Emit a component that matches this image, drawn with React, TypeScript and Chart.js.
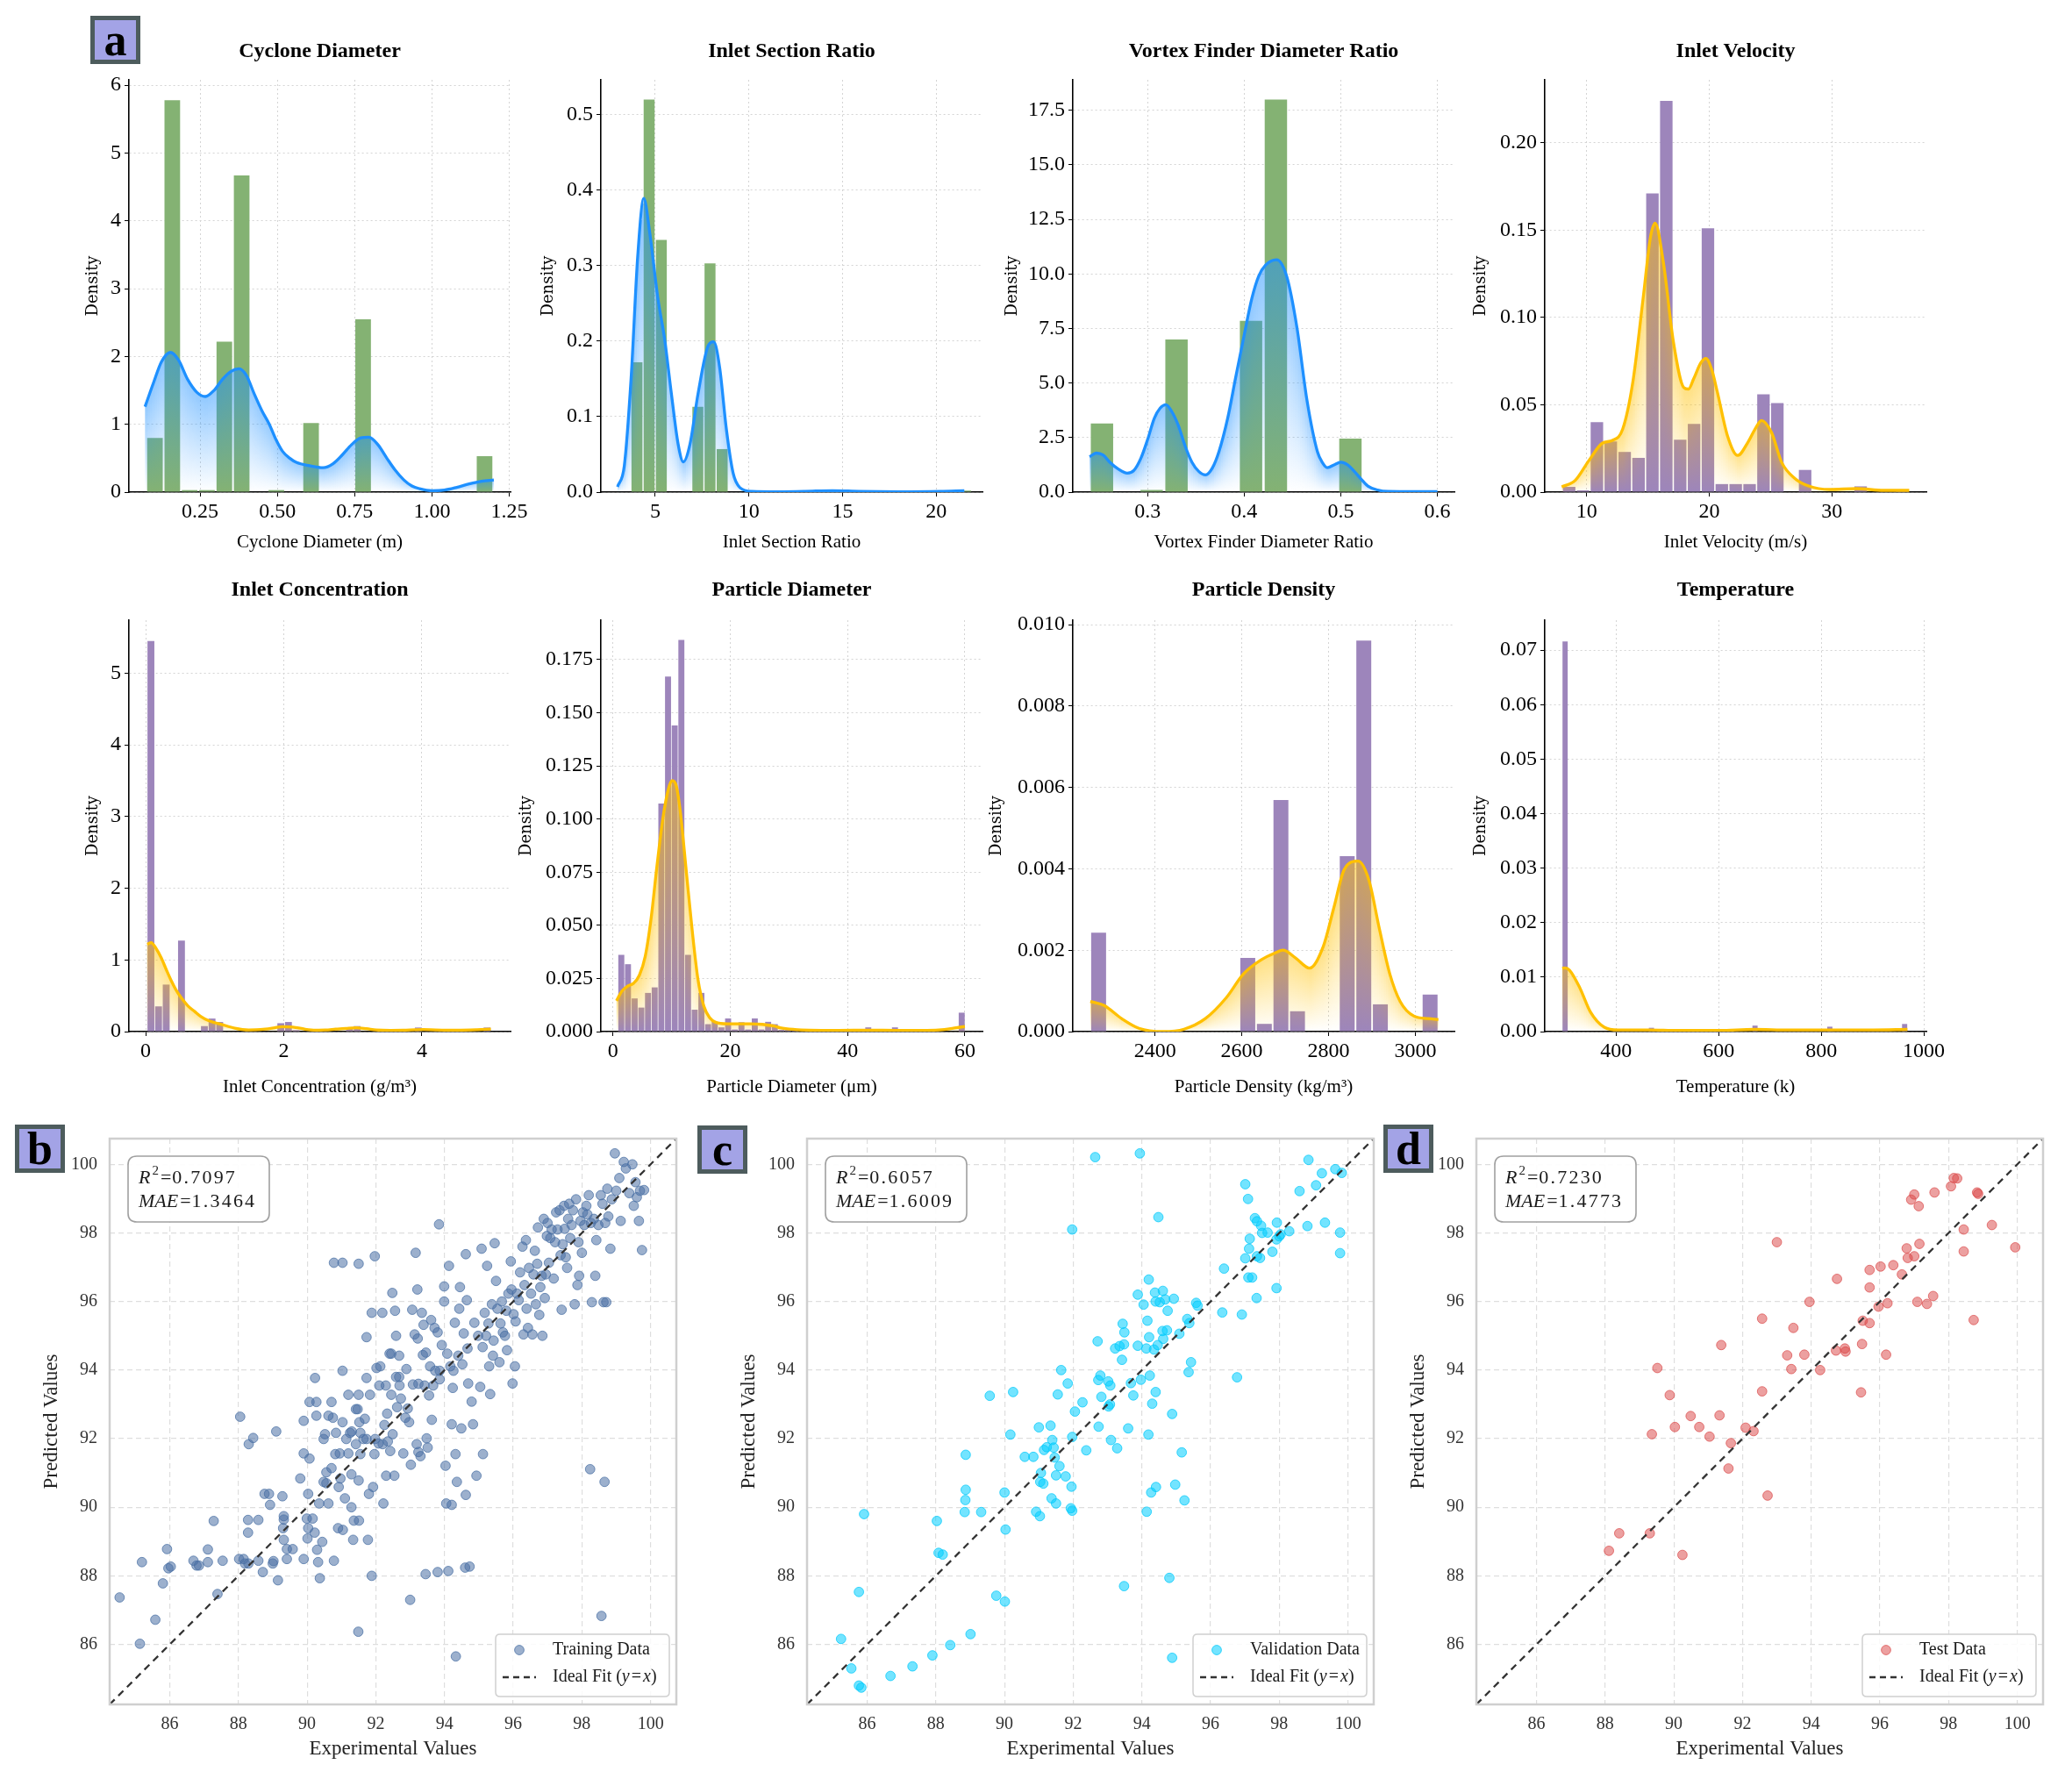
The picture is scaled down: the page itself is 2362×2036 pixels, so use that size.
import React, { useEffect, useRef } from "react";
import { Chart, registerables } from "chart.js";
Chart.register(...registerables);

const SERIF = '"Liberation Serif", "Times New Roman", serif';
const DENSITY_FONT = '"DejaVu Serif", serif';

// ================= Histogram data =================
// Cyclone Diameter
const CYCLONE_BIN_START = 0.076;
const CYCLONE_BIN_WIDTH = 0.0561;
const CYCLONE_HEIGHTS = [0.8, 5.78, 0.03, 0.03, 2.22, 4.67, 0, 0.03, 0, 1.02, 0, 0, 2.55, 0, 0, 0, 0, 0, 0, 0.53];
const CYCLONE_KDE = [[0.072,1.26],[0.1,1.62],[0.125,1.92],[0.154,2.06],[0.18,1.95],[0.21,1.66],[0.24,1.47],[0.267,1.41],[0.295,1.5],[0.322,1.66],[0.35,1.78],[0.376,1.82],[0.4,1.72],[0.425,1.45],[0.45,1.2],[0.474,1.0],[0.495,0.78],[0.517,0.6],[0.54,0.5],[0.561,0.44],[0.604,0.39],[0.648,0.36],[0.68,0.42],[0.71,0.55],[0.74,0.7],[0.77,0.8],[0.796,0.81],[0.825,0.7],[0.854,0.5],[0.88,0.33],[0.909,0.18],[0.935,0.09],[0.96,0.05],[1.0,0.02],[1.04,0.03],[1.08,0.07],[1.12,0.12],[1.16,0.16],[1.2,0.18]];
const CYCLONE_X_TICKS = [0.25, 0.5, 0.75, 1.0, 1.25];
const CYCLONE_Y_TICKS = [0, 1, 2, 3, 4, 5, 6];

// Inlet Section Ratio
const SECTION_BIN_START = 3.05;
const SECTION_BIN_WIDTH = 0.65;
const SECTION_HEIGHTS = [0, 0.172, 0.52, 0.334, 0, 0, 0.113, 0.303, 0.057, 0, 0, 0, 0, 0, 0, 0, 0, 0.002, 0, 0, 0, 0, 0, 0, 0, 0, 0, 0, 0.002];
const SECTION_KDE = [[2.99,0.007],[3.35,0.035],[3.71,0.15],[4.07,0.314],[4.39,0.389],[4.71,0.343],[5.14,0.257],[5.5,0.203],[5.86,0.131],[6.22,0.064],[6.5,0.04],[6.86,0.064],[7.29,0.131],[7.83,0.194],[8.12,0.199],[8.44,0.165],[8.8,0.083],[9.16,0.025],[9.52,0.006],[10.16,0.001],[11.6,0.0005],[13.0,0.001],[14.45,0.002],[15.9,0.001],[18.0,0.0005],[20.2,0.001],[21.5,0.002]];
const SECTION_X_TICKS = [5, 10, 15, 20];
const SECTION_Y_TICKS = [0, 0.1, 0.2, 0.3, 0.4, 0.5];

// Vortex Finder Diameter Ratio
const VORTEX_BIN_START = 0.24;
const VORTEX_BIN_WIDTH = 0.02571;
const VORTEX_HEIGHTS = [3.15, 0, 0.1, 7.0, 0, 0, 7.85, 18.0, 0, 0, 2.45, 0, 0, 0.05];
const VORTEX_KDE = [[0.24,1.62],[0.247,1.79],[0.254,1.7],[0.261,1.37],[0.27,1.05],[0.279,0.87],[0.286,1.0],[0.293,1.54],[0.3,2.4],[0.307,3.38],[0.313,3.85],[0.319,4.01],[0.325,3.7],[0.332,3.04],[0.339,2.1],[0.346,1.37],[0.353,0.95],[0.36,0.79],[0.367,1.1],[0.374,1.87],[0.383,3.4],[0.391,5.21],[0.4,7.2],[0.408,8.89],[0.415,9.9],[0.422,10.4],[0.4335,10.65],[0.444,9.89],[0.4546,7.55],[0.465,4.21],[0.4757,1.87],[0.481,1.35],[0.486,1.12],[0.493,1.25],[0.5,1.37],[0.507,1.25],[0.514,0.95],[0.521,0.6],[0.528,0.28],[0.538,0.1],[0.549,0.03],[0.578,0.02],[0.6,0.02]];
const VORTEX_X_TICKS = [0.3, 0.4, 0.5, 0.6];
const VORTEX_Y_TICKS = [0, 2.5, 5, 7.5, 10, 12.5, 15, 17.5];

// Inlet Velocity
const VELOCITY_BIN_START = 8.0;
const VELOCITY_BIN_WIDTH = 1.132;
const VELOCITY_HEIGHTS = [0.003, 0.001, 0.04, 0.029, 0.023, 0.0196, 0.171, 0.224, 0.03, 0.039, 0.151, 0.0046, 0.0046, 0.0046, 0.056, 0.051, 0, 0.0127, 0, 0, 0, 0.0033, 0, 0, 0.0008];
const VELOCITY_KDE = [[7.96,0.003],[9.06,0.0067],[10.17,0.018],[11.27,0.028],[12.1,0.0296],[12.93,0.036],[13.76,0.063],[14.6,0.111],[15.2,0.146],[15.58,0.154],[16.24,0.132],[17.07,0.086],[17.9,0.06],[18.3,0.059],[18.73,0.065],[19.3,0.074],[19.72,0.0765],[20.2,0.07],[20.66,0.057],[21.49,0.032],[22.32,0.021],[23.15,0.0286],[23.8,0.037],[24.25,0.041],[25.08,0.034],[25.9,0.017],[27.0,0.0077],[28.1,0.0035],[29.8,0.0015],[32.0,0.002],[34.2,0.001],[36.3,0.001]];
const VELOCITY_X_TICKS = [10, 20, 30];
const VELOCITY_Y_TICKS = [0, 0.05, 0.1, 0.15, 0.2];

// Inlet Concentration
const CONC_BIN_START = 0.02;
const CONC_BIN_WIDTH = 0.11067;
const CONC_HEIGHTS = [5.45, 0.352, 0.656, 0, 1.27, 0, 0, 0.077, 0.182, 0.134, 0, 0, 0, 0, 0, 0, 0, 0.117, 0.134, 0.02, 0, 0, 0, 0, 0, 0, 0.049, 0.077, 0, 0, 0, 0, 0, 0, 0, 0.057, 0, 0, 0, 0, 0, 0, 0, 0, 0.057];
const CONC_KDE = [[0.02,1.22],[0.078,1.24],[0.15,1.16],[0.224,1.03],[0.3,0.86],[0.37,0.71],[0.44,0.58],[0.516,0.47],[0.61,0.36],[0.71,0.28],[0.8,0.21],[0.905,0.155],[1.0,0.125],[1.1,0.1],[1.2,0.07],[1.29,0.048],[1.4,0.03],[1.49,0.024],[1.6,0.025],[1.73,0.034],[1.85,0.05],[1.98,0.07],[2.08,0.066],[2.17,0.058],[2.3,0.035],[2.46,0.02],[2.6,0.022],[2.75,0.034],[2.9,0.045],[3.05,0.053],[3.2,0.04],[3.34,0.024],[3.55,0.018],[3.73,0.02],[3.9,0.026],[4.02,0.029],[4.2,0.024],[4.51,0.02],[4.8,0.026],[5.0,0.034]];
const CONC_X_TICKS = [0, 2, 4];
const CONC_Y_TICKS = [0, 1, 2, 3, 4, 5];

// Particle Diameter
const PDIAM_BIN_START = 0.85;
const PDIAM_BIN_WIDTH = 1.138;
const PDIAM_HEIGHTS = [0.0361, 0.0317, 0.0156, 0.0113, 0.0182, 0.0208, 0.1073, 0.167, 0.144, 0.1842, 0.0361, 0.0103, 0.0182, 0.0035, 0.0046, 0.002, 0.0062, 0.001, 0.0044, 0.001, 0.0062, 0.001, 0.0046, 0.0035, 0.0008, 0.001, 0.0006, 0, 0.0008, 0.0008, 0, 0.0006, 0, 0, 0, 0, 0, 0.002, 0, 0, 0, 0.002, 0, 0, 0, 0, 0, 0, 0, 0, 0, 0.0089];
const PDIAM_KDE = [[0.6,0.0145],[1.5,0.019],[2.5,0.0214],[3.5,0.0227],[4.5,0.0265],[5.5,0.0354],[6.5,0.0533],[7.5,0.078],[8.5,0.1002],[9.5,0.1146],[10.1,0.118],[10.75,0.116],[11.5,0.103],[12.5,0.0754],[13.5,0.0478],[14.5,0.0244],[15.5,0.012],[16.5,0.0065],[17.5,0.0044],[19.5,0.0037],[21.5,0.0037],[23.5,0.0037],[25.5,0.0034],[27.5,0.0026],[28.5,0.0018],[31,0.001],[33.5,0.0007],[38.5,0.0006],[43.5,0.0007],[48.5,0.0006],[53.5,0.0006],[56.5,0.001],[58.5,0.0018],[60,0.0024]];
const PDIAM_X_TICKS = [0, 20, 40, 60];
const PDIAM_Y_TICKS = [0, 0.025, 0.05, 0.075, 0.1, 0.125, 0.15, 0.175];

// Particle Density
const PDENS_BIN_START = 2251;
const PDENS_BIN_WIDTH = 38.19;
const PDENS_HEIGHTS = [0.00243, 0, 0, 0, 0, 0, 0, 0, 0, 0.00181, 0.00019, 0.00569, 0.0005, 0, 0, 0.00431, 0.00961, 0.00067, 0, 0, 0.00091];
const PDENS_KDE = [[2251,0.00074],[2283,0.00064],[2323,0.00032],[2363,0.00008],[2419,0.0],[2467,0.00006],[2516,0.00032],[2564,0.00083],[2604,0.00142],[2644,0.00176],[2676,0.00193],[2695,0.002],[2724,0.00181],[2756,0.00156],[2788,0.0021],[2812,0.00304],[2836,0.00398],[2868,0.00419],[2893,0.00372],[2917,0.00253],[2941,0.00142],[2965,0.00074],[2997,0.00038],[3029,0.00032],[3053,0.0003]];
const PDENS_X_TICKS = [2400, 2600, 2800, 3000];
const PDENS_Y_TICKS = [0, 0.002, 0.004, 0.006, 0.008, 0.01];

// Temperature
const TEMP_BIN_START = 295;
const TEMP_BIN_WIDTH = 11.22;
const TEMP_HEIGHTS = [0.0716, 0, 0, 0, 0, 0, 0, 0, 0, 0, 0, 0, 0, 0, 0, 0.0007, 0, 0, 0, 0, 0, 0, 0, 0, 0, 0, 0, 0, 0, 0, 0, 0, 0, 0.0011, 0, 0, 0, 0, 0, 0, 0, 0, 0, 0, 0, 0, 0.0009, 0, 0, 0, 0, 0, 0, 0, 0, 0, 0, 0, 0, 0.0014];
const TEMP_KDE = [[295,0.0116],[300,0.0117],[309,0.0113],[329,0.0081],[350,0.0036],[377,0.0008],[404,0.0003],[465,0.0003],[520,0.0002],[601,0.0002],[669,0.0004],[737,0.0003],[819,0.0003],[901,0.0003],[968,0.0004]];
const TEMP_X_TICKS = [400, 600, 800, 1000];
const TEMP_Y_TICKS = [0, 0.01, 0.02, 0.03, 0.04, 0.05, 0.06, 0.07];

// ================= Scatter data (experimental, predicted) =================
const TRAIN_POINTS = [[84.54,87.37],[85.13,86.02],[85.19,88.4],[85.58,86.72],[85.8,87.78],[85.92,88.78],[85.96,88.22],[86.03,88.27],[86.69,88.44],[86.78,88.3],[86.85,88.3],[87.11,88.4],[87.11,88.77],[87.28,89.6],[87.39,87.47],[87.54,88.44],[88.05,92.64],[88.02,88.49],[88.15,88.49],[88.19,88.36],[88.29,88.36],[88.28,89.63],[88.28,89.26],[88.3,91.84],[88.43,92.02],[88.58,89.63],[88.58,88.44],[88.71,88.11],[88.76,90.39],[88.89,90.39],[88.92,90.07],[89.0,88.36],[89.02,88.43],[89.1,92.21],[89.15,87.87],[89.28,90.32],[89.32,89.74],[89.32,89.64],[89.3,89.39],[89.32,89.05],[89.41,88.78],[89.58,88.78],[89.41,88.49],[89.8,90.84],[89.9,92.52],[89.9,91.57],[89.9,88.49],[89.99,89.67],[90.16,89.67],[90.01,89.09],[90.03,89.39],[90.03,90.39],[90.07,91.42],[90.07,93.07],[90.27,93.07],[90.23,93.77],[90.22,89.26],[90.27,92.67],[90.29,88.76],[90.32,88.4],[90.35,90.11],[90.37,87.93],[90.44,88.99],[90.48,91.99],[90.48,90.74],[90.52,92.13],[90.56,91.02],[90.56,90.7],[90.62,90.11],[90.62,92.67],[90.71,93.07],[90.71,91.14],[90.75,92.61],[90.78,88.44],[90.78,97.13],[90.82,91.55],[90.84,92.17],[90.9,89.39],[90.92,90.59],[90.95,91.57],[90.97,90.84],[91.03,97.13],[91.03,93.98],[91.03,92.48],[91.04,89.34],[91.1,90.26],[91.14,91.99],[91.2,93.28],[91.2,91.57],[91.25,92.17],[91.29,90.0],[91.29,90.96],[91.3,92.21],[91.34,89.05],[91.36,89.61],[91.42,91.84],[91.42,92.86],[91.47,92.86],[91.5,97.1],[91.5,93.28],[91.5,90.78],[91.51,89.61],[91.52,92.48],[91.55,92.17],[91.49,86.37],[91.55,91.55],[91.64,91.99],[91.68,92.58],[91.73,94.96],[91.73,93.77],[91.73,91.99],[91.77,89.05],[91.8,90.39],[91.83,93.28],[91.88,95.67],[91.88,88.0],[91.92,90.59],[91.96,91.55],[91.97,97.32],[91.98,91.99],[92.02,94.06],[92.08,91.86],[92.1,93.55],[92.13,94.11],[92.19,95.67],[92.2,91.84],[92.22,90.11],[92.25,92.4],[92.29,93.55],[92.3,90.92],[92.33,92.73],[92.35,91.92],[92.4,94.48],[92.45,94.48],[92.42,91.64],[92.45,93.28],[92.48,96.25],[92.49,92.13],[92.54,90.92],[92.56,95.73],[92.59,95.0],[92.59,93.8],[92.68,93.8],[92.62,92.92],[92.68,94.42],[92.69,93.55],[92.73,93.17],[92.8,91.57],[92.86,92.61],[92.89,94.03],[92.93,92.88],[92.97,92.48],[93.0,87.3],[93.02,91.24],[93.06,95.76],[93.08,93.58],[93.13,95.04],[93.16,97.42],[93.19,91.84],[93.21,96.35],[93.22,94.92],[93.24,93.6],[93.24,91.61],[93.3,91.49],[93.34,95.67],[93.37,94.44],[93.39,95.32],[93.42,93.55],[93.45,88.05],[93.46,94.51],[93.48,92.01],[93.51,91.74],[93.55,93.26],[93.58,94.11],[93.61,95.46],[93.63,92.55],[93.67,93.55],[93.71,95.23],[93.73,93.98],[93.8,95.1],[93.8,88.11],[93.84,98.25],[93.86,93.73],[93.86,93.98],[93.92,94.73],[93.99,96.44],[93.99,96.0],[94.03,91.21],[94.05,90.11],[94.08,94.48],[94.11,88.14],[94.13,97.04],[94.17,94.11],[94.21,92.42],[94.21,90.07],[94.24,93.48],[94.26,93.98],[94.3,95.38],[94.32,91.55],[94.33,85.65],[94.36,90.74],[94.4,94.42],[94.43,95.79],[94.45,96.42],[94.49,92.3],[94.52,94.17],[94.56,95.07],[94.6,88.24],[94.62,90.36],[94.62,97.38],[94.65,96.04],[94.67,94.63],[94.69,93.61],[94.73,88.27],[94.79,93.08],[94.83,92.42],[94.87,95.38],[94.93,90.92],[94.98,95.0],[95.04,93.51],[95.08,97.54],[95.11,94.67],[95.12,91.55],[95.17,95.67],[95.21,95.0],[95.24,97.04],[95.28,95.36],[95.3,94.11],[95.33,93.3],[95.38,95.92],[95.41,94.42],[95.43,94.86],[95.46,97.7],[95.5,96.6],[95.54,95.79],[95.6,94.23],[95.63,95.36],[95.67,96.0],[95.7,95.1],[95.76,95.0],[95.8,95.73],[95.82,94.58],[95.86,96.23],[95.93,97.17],[95.95,96.35],[95.98,93.61],[96.01,95.63],[96.05,94.11],[96.07,95.42],[96.11,96.23],[96.16,96.04],[96.2,96.85],[96.27,97.6],[96.3,95.04],[96.33,96.48],[96.37,97.79],[96.39,95.79],[96.43,95.23],[96.46,96.98],[96.52,96.23],[96.56,95.04],[96.59,96.79],[96.63,97.48],[96.66,95.92],[96.7,97.1],[96.72,98.16],[96.76,95.61],[96.79,96.42],[96.83,96.75],[96.85,95.0],[96.89,98.41],[96.92,96.1],[96.95,96.79],[96.98,97.91],[97.0,98.29],[97.04,97.13],[97.08,97.85],[97.12,98.1],[97.18,96.67],[97.22,97.73],[97.25,98.6],[97.29,98.1],[97.35,98.66],[97.38,97.35],[97.41,95.76],[97.44,97.67],[97.48,98.79],[97.5,98.12],[97.53,97.29],[97.57,96.98],[97.6,98.41],[97.63,98.85],[97.66,97.85],[97.7,98.23],[97.74,98.66],[97.79,95.92],[97.83,98.98],[97.87,96.48],[97.9,97.73],[97.92,96.75],[97.96,98.35],[98.0,97.42],[98.03,98.6],[98.07,98.23],[98.13,98.79],[98.16,98.54],[98.2,99.1],[98.24,91.11],[98.26,98.29],[98.29,95.98],[98.35,98.41],[98.39,96.75],[98.42,97.79],[98.48,98.23],[98.55,99.1],[98.57,86.83],[98.6,98.85],[98.63,95.98],[98.66,90.74],[98.68,98.29],[98.71,95.98],[98.74,99.29],[98.77,98.48],[98.83,97.54],[98.87,98.98],[98.96,100.32],[99.0,99.23],[99.09,99.6],[99.13,98.35],[99.22,100.07],[99.28,99.88],[99.38,99.16],[99.47,100.0],[99.51,98.79],[99.56,99.48],[99.6,99.04],[99.66,98.35],[99.69,99.23],[99.75,97.5],[99.81,99.25]];

const VALID_POINTS = [[85.24,86.16],[85.54,85.3],[85.76,87.53],[85.76,84.8],[85.83,84.74],[85.91,89.8],[86.68,85.08],[87.32,85.36],[87.9,85.68],[88.03,89.6],[88.08,88.67],[88.2,88.62],[88.42,85.98],[88.84,89.86],[88.86,90.21],[88.87,90.51],[88.87,91.53],[89.01,86.3],[89.32,89.86],[89.57,93.25],[89.76,87.42],[90.0,90.43],[90.01,87.25],[90.03,89.35],[90.17,92.12],[90.25,93.36],[90.59,91.47],[90.84,91.47],[90.92,89.87],[91.0,92.33],[91.03,89.74],[91.04,90.74],[91.06,91.0],[91.13,90.69],[91.15,91.67],[91.23,91.75],[91.34,92.38],[91.37,90.26],[91.39,91.96],[91.43,91.74],[91.46,91.45],[91.5,90.11],[91.5,90.93],[91.55,93.29],[91.6,91.2],[91.65,94.0],[91.78,90.9],[91.84,93.61],[91.93,89.97],[91.95,90.6],[91.97,89.9],[91.97,92.05],[91.97,98.1],[92.05,92.79],[92.27,93.06],[92.38,91.66],[92.64,100.21],[92.71,94.84],[92.73,93.71],[92.74,92.35],[92.79,93.84],[92.82,93.22],[93.02,93.67],[93.03,92.94],[93.07,93.0],[93.08,93.55],[93.1,91.96],[93.22,94.63],[93.28,91.72],[93.35,94.7],[93.42,94.3],[93.44,95.35],[93.48,94.75],[93.49,95.1],[93.48,87.7],[93.6,92.3],[93.68,93.62],[93.75,93.26],[93.88,94.71],[93.88,96.2],[93.94,100.32],[93.97,93.72],[94.05,95.91],[94.13,94.63],[94.14,89.87],[94.16,95.44],[94.19,92.12],[94.2,96.64],[94.21,94.96],[94.23,93.84],[94.27,90.43],[94.3,93.02],[94.35,94.6],[94.38,96.26],[94.4,96.0],[94.4,93.36],[94.41,90.59],[94.46,94.73],[94.48,98.46],[94.52,95.98],[94.6,95.14],[94.61,96.31],[94.62,94.91],[94.68,96.06],[94.73,95.16],[94.75,95.73],[94.8,87.94],[94.88,92.72],[94.88,85.61],[94.93,96.08],[94.97,90.66],[95.09,95.06],[95.16,91.6],[95.24,90.2],[95.32,95.49],[95.36,93.94],[95.38,95.37],[95.43,94.23],[95.58,95.96],[95.62,95.88],[96.34,95.68],[96.39,96.96],[96.77,93.79],[96.91,95.62],[97.01,99.42],[97.01,97.26],[97.09,98.99],[97.1,96.7],[97.12,97.54],[97.14,97.83],[97.21,96.7],[97.29,98.43],[97.34,96.1],[97.35,97.32],[97.35,98.34],[97.44,97.27],[97.47,98.21],[97.5,98.0],[97.66,98.01],[97.8,97.45],[97.92,96.39],[97.92,97.81],[97.93,98.3],[98.0,97.9],[98.04,97.96],[98.29,98.05],[98.59,99.22],[98.82,98.2],[98.85,100.13],[99.07,99.39],[99.24,99.74],[99.33,98.3],[99.63,99.86],[99.77,98.01],[99.77,97.41],[99.82,99.75]];

const TEST_POINTS = [[88.11,88.73],[88.41,89.24],[89.3,89.24],[89.36,92.13],[89.52,94.06],[89.88,93.27],[90.03,92.34],[90.25,88.61],[90.49,92.66],[90.74,92.34],[91.04,92.06],[91.33,92.68],[91.38,94.73],[91.59,91.13],[91.66,91.87],[92.09,92.32],[92.32,92.22],[92.57,93.38],[92.57,95.5],[92.73,90.34],[93.0,97.73],[93.3,94.43],[93.42,94.03],[93.48,95.23],[93.8,94.45],[93.95,95.99],[94.26,94.0],[94.72,94.57],[94.75,96.66],[94.98,94.63],[95.0,94.54],[95.45,93.35],[95.48,94.76],[95.5,95.44],[95.7,95.37],[95.7,96.41],[95.7,96.92],[95.96,95.85],[96.02,97.02],[96.18,94.45],[96.22,95.95],[96.39,97.06],[96.64,96.79],[96.78,97.55],[96.81,97.27],[96.91,98.97],[97.0,99.12],[97.0,97.32],[97.09,95.99],[97.13,98.78],[97.15,97.68],[97.37,95.93],[97.55,96.16],[97.59,99.18],[98.07,99.36],[98.15,99.6],[98.25,99.59],[98.44,98.1],[98.44,97.46],[98.73,95.46],[98.83,99.18],[98.86,99.14],[99.26,98.23],[99.94,97.58]];

const SCATTER_TICKS = [86, 88, 90, 92, 94, 96, 98, 100];
const SCATTER_RANGE = [84.25, 100.75];
const IDEAL_LINE = [84.25, 100.75];
const METRICS_R2 = ["0.7097", "0.6057", "0.7230"];
const METRICS_MAE = ["1.3464", "1.6009", "1.4773"];

// ================= Plugins =================
function makeKdeFill(rgb: string) {
  return {
    id: "kdeFill",
    beforeDatasetDraw(chart: any, args: any) {
      const meta = args.meta;
      if (meta.type !== "line") return;
      const line = meta.dataset;
      const pts = meta.data;
      if (!line || !pts || pts.length < 2) return;
      const ctx = chart.ctx;
      const area = chart.chartArea;
      const base = chart.scales.y.getPixelForValue(0);
      line.updateControlPoints(area, "x");
      ctx.save();
      ctx.beginPath();
      ctx.rect(area.left, area.top, area.right - area.left, area.bottom - area.top);
      ctx.clip();
      ctx.beginPath();
      line.path(ctx);
      ctx.lineTo(pts[pts.length - 1].x, base);
      ctx.lineTo(pts[0].x, base);
      ctx.closePath();
      ctx.clip();
      let k = 0;
      const x0 = Math.floor(pts[0].x);
      const x1 = Math.ceil(pts[pts.length - 1].x);
      for (let px = x0; px <= x1; px += 2) {
        while (k < pts.length - 2 && pts[k + 1].x < px) k++;
        const a = pts[k], b = pts[k + 1];
        const t = Math.max(0, Math.min(1, (px - a.x) / ((b.x - a.x) || 1)));
        const y = a.y + (b.y - a.y) * t;
        const h = base - y;
        if (h < 0.5) continue;
        const g = ctx.createLinearGradient(0, y - 3, 0, base);
        g.addColorStop(0, `rgba(${rgb},0.5)`);
        g.addColorStop(1, `rgba(${rgb},0)`);
        ctx.fillStyle = g;
        ctx.fillRect(px, y - 12, 2, h + 12);
      }
      ctx.restore();
    },
  };
}

function roundRect(ctx: any, x: number, y: number, w: number, h: number, r: number) {
  ctx.beginPath();
  ctx.moveTo(x + r, y);
  ctx.lineTo(x + w - r, y);
  ctx.quadraticCurveTo(x + w, y, x + w, y + r);
  ctx.lineTo(x + w, y + h - r);
  ctx.quadraticCurveTo(x + w, y + h, x + w - r, y + h);
  ctx.lineTo(x + r, y + h);
  ctx.quadraticCurveTo(x, y + h, x, y + h - r);
  ctx.lineTo(x, y + r);
  ctx.quadraticCurveTo(x, y, x + r, y);
  ctx.closePath();
}

function makeScatterDecor(cfg: any) {
  return {
    id: "scatterDecor",
    afterDraw(chart: any) {
      const ctx = chart.ctx;
      const a = chart.chartArea;
      ctx.save();
      // frame
      ctx.strokeStyle = "#cfcfcf";
      ctx.lineWidth = 2.5;
      ctx.strokeRect(a.left, a.top, a.right - a.left, a.bottom - a.top);

      // metrics box
      const bx = a.left + 21, by = a.top + 20, bw = 161, bh = 75;
      roundRect(ctx, bx, by, bw, bh, 10);
      ctx.fillStyle = "rgba(255,255,255,0.92)";
      ctx.fill();
      ctx.strokeStyle = "#a0a0a0";
      ctx.lineWidth = 1.6;
      ctx.stroke();
      ctx.fillStyle = "#1a1a1a";
      ctx.textBaseline = "alphabetic";
      ctx.textAlign = "left";
      const num = (s: string, x: number, y: number) => {
        ctx.font = `22px ${SERIF}`;
        let xx = x;
        for (const ch of s) {
          ctx.fillText(ch, xx, y);
          xx += ctx.measureText(ch).width + 2.2;
        }
      };
      let x = bx + 12;
      let y = by + 31;
      ctx.font = `italic 22px ${SERIF}`;
      ctx.fillText("R", x, y);
      x += ctx.measureText("R").width + 2;
      ctx.font = `15px ${SERIF}`;
      ctx.fillText("2", x, y - 10);
      x += ctx.measureText("2").width + 2;
      ctx.font = `22px ${SERIF}`;
      ctx.fillText("=", x, y);
      x += ctx.measureText("=").width + 1;
      num(cfg.r2, x, y);
      x = bx + 12;
      y = by + 58;
      ctx.font = `italic 22px ${SERIF}`;
      ctx.fillText("MAE", x, y);
      x += ctx.measureText("MAE").width + 2;
      ctx.font = `22px ${SERIF}`;
      ctx.fillText("=", x, y);
      x += ctx.measureText("=").width + 1;
      num(cfg.mae, x, y);

      // legend
      const lw = 198, lh = 71;
      const lx = a.right - 8 - lw, ly = a.bottom - 9 - lh;
      roundRect(ctx, lx, ly, lw, lh, 5);
      ctx.fillStyle = "rgba(255,255,255,0.85)";
      ctx.fill();
      ctx.strokeStyle = "#d0d0d0";
      ctx.lineWidth = 1.5;
      ctx.stroke();
      ctx.beginPath();
      ctx.arc(lx + 27, ly + 18, 5.4, 0, Math.PI * 2);
      ctx.fillStyle = cfg.fill;
      ctx.fill();
      ctx.strokeStyle = cfg.edge;
      ctx.lineWidth = 1;
      ctx.stroke();
      ctx.fillStyle = "#1a1a1a";
      ctx.font = `20px ${SERIF}`;
      ctx.textBaseline = "middle";
      ctx.fillText(cfg.label, lx + 65, ly + 18);
      ctx.beginPath();
      ctx.setLineDash([7, 5]);
      ctx.strokeStyle = "#333";
      ctx.lineWidth = 2.3;
      ctx.moveTo(lx + 8, ly + 49);
      ctx.lineTo(lx + 46, ly + 49);
      ctx.stroke();
      ctx.setLineDash([]);
      let tx = lx + 65;
      const ty = ly + 49;
      const seg = (s: string, italic: boolean) => {
        ctx.font = `${italic ? "italic " : ""}20px ${SERIF}`;
        ctx.fillText(s, tx, ty);
        tx += ctx.measureText(s).width;
      };
      seg("Ideal Fit (", false);
      seg("y", true);
      tx += 2;
      seg("=", false);
      tx += 2;
      seg("x", true);
      seg(")", false);
      ctx.restore();
    },
  };
}

// ================= Panel configs =================
type Hist = any;
const ROW1 = { top: 30, height: 601, padTop: 14, padBottom: 18.2, xAxisH: 70 };
const ROW2 = { top: 644, height: 608, padTop: 14, padBottom: 20.2, xAxisH: 76 };
const AXES_W = 435;
const RIGHT_PAD = 30;
const GREEN = "#84b273";
const PURPLE = "#9d85bb";
const BLUE = "#1e90ff";
const BLUE_RGB = "30,144,255";
const GOLD = "#ffc000";
const GOLD_RGB = "255,192,0";

const HISTS: Hist[] = [
  { row: ROW1, left: 96, yW: 51, title: "Cyclone Diameter", xLabel: "Cyclone Diameter (m)", start: CYCLONE_BIN_START, width: CYCLONE_BIN_WIDTH, heights: CYCLONE_HEIGHTS, kde: CYCLONE_KDE, xMin: 0.02, xMax: 1.254, yMax: 6.08, xTicks: CYCLONE_X_TICKS, xDec: 2, yTicks: CYCLONE_Y_TICKS, yDec: 0, bar: GREEN, line: BLUE, rgb: BLUE_RGB },
  { row: ROW1, left: 615, yW: 70, title: "Inlet Section Ratio", xLabel: "Inlet Section Ratio", start: SECTION_BIN_START, width: SECTION_BIN_WIDTH, heights: SECTION_HEIGHTS, kde: SECTION_KDE, xMin: 2.1, xMax: 22.47, yMax: 0.546, xTicks: SECTION_X_TICKS, xDec: 0, yTicks: SECTION_Y_TICKS, yDec: 1, bar: GREEN, line: BLUE, rgb: BLUE_RGB },
  { row: ROW1, left: 1144, yW: 79, title: "Vortex Finder Diameter Ratio", xLabel: "Vortex Finder Diameter Ratio", start: VORTEX_BIN_START, width: VORTEX_BIN_WIDTH, heights: VORTEX_HEIGHTS, kde: VORTEX_KDE, xMin: 0.2227, xMax: 0.6176, yMax: 18.9, xTicks: VORTEX_X_TICKS, xDec: 1, yTicks: VORTEX_Y_TICKS, yDec: 1, bar: GREEN, line: BLUE, rgb: BLUE_RGB },
  { row: ROW1, left: 1678, yW: 83, title: "Inlet Velocity", xLabel: "Inlet Velocity (m/s)", start: VELOCITY_BIN_START, width: VELOCITY_BIN_WIDTH, heights: VELOCITY_HEIGHTS, kde: VELOCITY_KDE, xMin: 6.58, xMax: 37.7, yMax: 0.236, xTicks: VELOCITY_X_TICKS, xDec: 0, yTicks: VELOCITY_Y_TICKS, yDec: 2, bar: PURPLE, line: GOLD, rgb: GOLD_RGB },
  { row: ROW2, left: 96, yW: 51, title: "Inlet Concentration", xLabel: "Inlet Concentration (g/m\u00b3)", start: CONC_BIN_START, width: CONC_BIN_WIDTH, heights: CONC_HEIGHTS, kde: CONC_KDE, xMin: -0.243, xMax: 5.285, yMax: 5.74, xTicks: CONC_X_TICKS, xDec: 0, yTicks: CONC_Y_TICKS, yDec: 0, bar: PURPLE, line: GOLD, rgb: GOLD_RGB },
  { row: ROW2, left: 590, yW: 95, title: "Particle Diameter", xLabel: "Particle Diameter (\u03bcm)", start: PDIAM_BIN_START, width: PDIAM_BIN_WIDTH, heights: PDIAM_HEIGHTS, kde: PDIAM_KDE, xMin: -2.06, xMax: 63.0, yMax: 0.1935, xTicks: PDIAM_X_TICKS, xDec: 0, yTicks: PDIAM_Y_TICKS, yDec: 3, bar: PURPLE, line: GOLD, rgb: GOLD_RGB },
  { row: ROW2, left: 1126, yW: 97, title: "Particle Density", xLabel: "Particle Density (kg/m\u00b3)", start: PDENS_BIN_START, width: PDENS_BIN_WIDTH, heights: PDENS_HEIGHTS, kde: PDENS_KDE, xMin: 2210.7, xMax: 3090, yMax: 0.01011, xTicks: PDENS_X_TICKS, xDec: 0, yTicks: PDENS_Y_TICKS, yDec: 3, bar: PURPLE, line: GOLD, rgb: GOLD_RGB },
  { row: ROW2, left: 1678, yW: 83, title: "Temperature", xLabel: "Temperature (k)", start: TEMP_BIN_START, width: TEMP_BIN_WIDTH, heights: TEMP_HEIGHTS, kde: TEMP_KDE, xMin: 261, xMax: 1005, yMax: 0.0755, xTicks: TEMP_X_TICKS, xDec: 0, yTicks: TEMP_Y_TICKS, yDec: 2, bar: PURPLE, line: GOLD, rgb: GOLD_RGB },
];

function histConfig(p: Hist) {
  const bars = p.heights.map((h: number, i: number) => ({ x: p.start + (i + 0.5) * p.width, y: h }));
  const kde = p.kde.map((d: number[]) => ({ x: d[0], y: d[1] }));
  const tickFont = { family: SERIF, size: 24 };
  return {
    type: "bar",
    data: {
      datasets: [
        { type: "line", data: kde, borderColor: p.line, borderWidth: 3.3, pointRadius: 0, cubicInterpolationMode: "monotone", fill: false, order: 1 },
        { type: "bar", data: bars, backgroundColor: p.bar, borderWidth: 0, barPercentage: 0.9, categoryPercentage: 1, order: 2 },
      ],
    },
    options: {
      animation: false,
      responsive: false,
      devicePixelRatio: 1,
      events: [],
      layout: { padding: { left: 0, right: RIGHT_PAD, top: 0, bottom: 0 } },
      plugins: {
        legend: { display: false },
        tooltip: { enabled: false },
        title: {
          display: true,
          fullSize: false,
          text: p.title,
          color: "#000",
          font: { family: SERIF, size: 24, weight: "bold", lineHeight: 1.2 },
          padding: { top: p.row.padTop, bottom: p.row.padBottom },
        },
      },
      scales: {
        x: {
          type: "linear",
          min: p.xMin,
          max: p.xMax,
          offset: false,
          grid: { color: "#d4d4d4", lineWidth: 1, offset: false, drawTicks: true, tickLength: 5, tickColor: "#000", tickWidth: 1 },
          border: { color: "#000", width: 1.6, dash: [2, 3] },
          ticks: { font: tickFont, color: "#000", padding: 3, autoSkip: false, maxRotation: 0, callback: (v: number) => Number(v).toFixed(p.xDec) },
          afterBuildTicks: (s: any) => { s.ticks = p.xTicks.map((v: number) => ({ value: v })); },
          afterFit: (s: any) => { s.height = p.row.xAxisH; },
          title: { display: true, text: p.xLabel, color: "#000", font: { family: SERIF, size: 21, lineHeight: 1.2 }, padding: 0 },
        },
        y: {
          type: "linear",
          min: 0,
          max: p.yMax,
          grid: { color: "#d4d4d4", lineWidth: 1, drawTicks: true, tickLength: 5, tickColor: "#000", tickWidth: 1 },
          border: { color: "#000", width: 1.6, dash: [2, 3] },
          ticks: { font: tickFont, color: "#000", padding: 4, autoSkip: false, callback: (v: number) => Number(v).toFixed(p.yDec) },
          afterBuildTicks: (s: any) => { s.ticks = p.yTicks.map((v: number) => ({ value: v })); },
          afterFit: (s: any) => { s.width = p.yW; },
          title: { display: true, text: "Density", color: "#000", font: { family: DENSITY_FONT, size: 18, lineHeight: 1.2 }, padding: 0 },
        },
      },
    },
    plugins: [makeKdeFill(p.rgb)],
  };
}

const SC_TOP = 1268;
const SC_HEIGHT = 740;
const SC_PAD_TOP = 30;
const SC_YW = 80;
const SC_XH = 65;
const SC_W = 746;
const SCATTERS = [
  { left: 45, points: TRAIN_POINTS, label: "Training Data", fill: "rgba(74,112,164,0.55)", edge: "rgba(74,112,164,0.75)", r2: METRICS_R2[0], mae: METRICS_MAE[0] },
  { left: 840, points: VALID_POINTS, label: "Validation Data", fill: "rgba(0,205,255,0.55)", edge: "rgba(0,200,250,0.75)", r2: METRICS_R2[1], mae: METRICS_MAE[1] },
  { left: 1603, points: TEST_POINTS, label: "Test Data", fill: "rgba(218,72,72,0.52)", edge: "rgba(218,72,72,0.7)", r2: METRICS_R2[2], mae: METRICS_MAE[2] },
];

function scatterConfig(s: any) {
  const tickFont = { family: SERIF, size: 20 };
  const axisFont = { family: SERIF, size: 23, lineHeight: 1.2 };
  const common = (title: string) => ({
    type: "linear",
    min: SCATTER_RANGE[0],
    max: SCATTER_RANGE[1],
    grid: { color: "#dedede", lineWidth: 1.2, drawTicks: false },
    border: { display: false, dash: [6, 4] },
    afterBuildTicks: (sc: any) => { sc.ticks = SCATTER_TICKS.map((v) => ({ value: v })); },
    title: { display: true, text: title, color: "#222", font: axisFont, padding: 0 },
  });
  return {
    type: "scatter",
    data: {
      datasets: [
        { type: "scatter", data: s.points.map((d: number[]) => ({ x: d[0], y: d[1] })), backgroundColor: s.fill, borderColor: s.edge, borderWidth: 1, pointRadius: 5.4, order: 2 },
        { type: "line", data: IDEAL_LINE.map((v) => ({ x: v, y: v })), borderColor: "#333", borderWidth: 2.3, borderDash: [8, 6], pointRadius: 0, fill: false, order: 1 },
      ],
    },
    options: {
      animation: false,
      responsive: false,
      devicePixelRatio: 1,
      events: [],
      layout: { padding: { left: 0, right: 20, top: SC_PAD_TOP, bottom: 0 } },
      plugins: { legend: { display: false }, tooltip: { enabled: false }, title: { display: false } },
      scales: {
        x: {
          ...common("Experimental Values"),
          ticks: { font: tickFont, color: "#333", padding: 11, autoSkip: false, maxRotation: 0, callback: (v: number) => String(v) },
          afterFit: (sc: any) => { sc.height = SC_XH; },
        },
        y: {
          ...common("Predicted Values"),
          ticks: { font: tickFont, color: "#333", padding: 14, autoSkip: false, callback: (v: number) => String(v) },
          afterFit: (sc: any) => { sc.width = SC_YW; },
        },
      },
    },
    plugins: [makeScatterDecor(s)],
  };
}

// ================= Components =================
function ChartBox({ left, top, width, height, make }: any) {
  const ref = useRef<HTMLCanvasElement>(null);
  useEffect(() => {
    const chart = new Chart(ref.current as any, make() as any);
    return () => chart.destroy();
  }, []);
  return (
    <canvas
      ref={ref}
      width={width}
      height={height}
      style={{ position: "absolute", left, top, width, height }}
    />
  );
}

function PanelLabel({ left, top, text }: any) {
  return (
    <div
      style={{
        position: "absolute",
        left,
        top,
        width: 57,
        height: 55,
        boxSizing: "border-box",
        border: "5px solid #4d5c5d",
        background: "#a3a3e6",
        fontFamily: SERIF,
        fontWeight: "bold",
        fontSize: 52,
        lineHeight: "46px",
        textAlign: "center",
        color: "#000",
        overflow: "hidden",
      }}
    >
      {text}
    </div>
  );
}

export default function App() {
  return (
    <div style={{ position: "absolute", left: 0, top: 0, width: 2362, height: 2036, background: "#fff", overflow: "hidden" }}>
      {HISTS.map((p, i) => (
        <ChartBox key={"h" + i} left={p.left} top={p.row.top} width={p.yW + AXES_W + RIGHT_PAD} height={p.row.height} make={() => histConfig(p)} />
      ))}
      {SCATTERS.map((s, i) => (
        <ChartBox key={"s" + i} left={s.left} top={SC_TOP} width={SC_W} height={SC_HEIGHT} make={() => scatterConfig(s)} />
      ))}
      <PanelLabel left={103} top={18} text="a" />
      <PanelLabel left={17} top={1282} text="b" />
      <PanelLabel left={795} top={1283} text="c" />
      <PanelLabel left={1577} top={1282} text="d" />
    </div>
  );
}
